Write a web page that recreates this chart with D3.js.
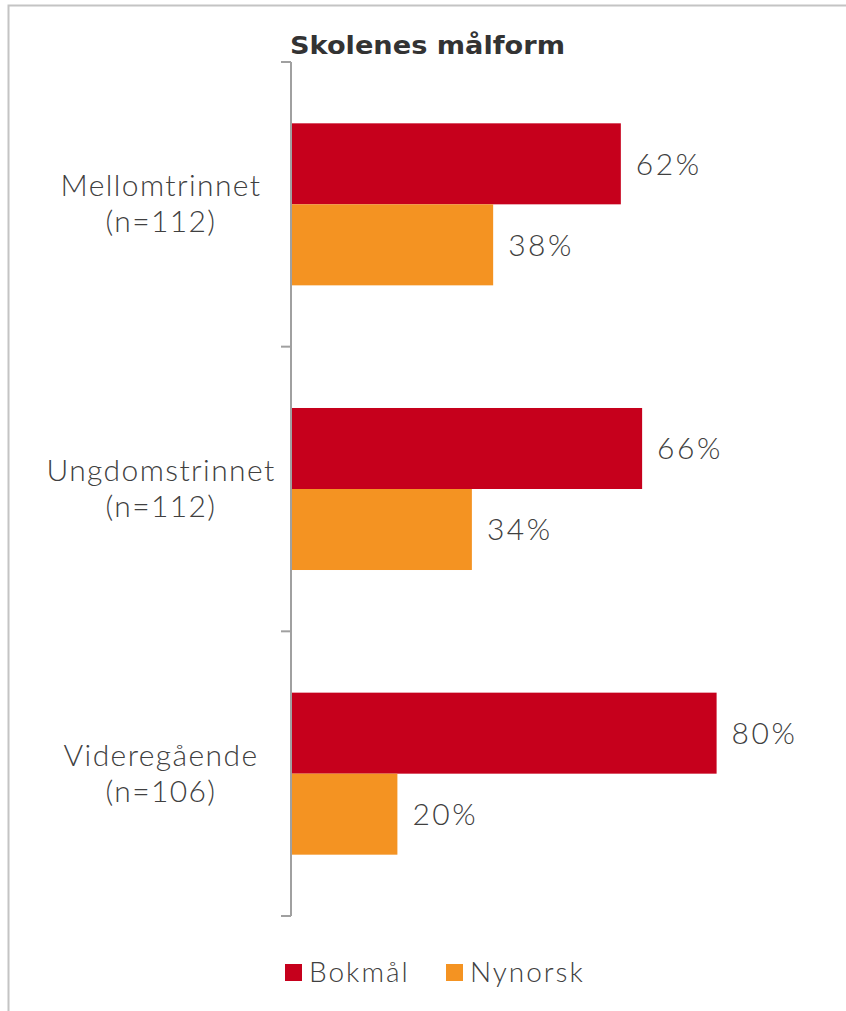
<!DOCTYPE html>
<html>
<head>
<meta charset="utf-8">
<script src="https://cdn.jsdelivr.net/npm/d3@7"></script>
<style>
  body { margin: 0; background: #fff; }
  text { font-family: Lato, "Open Sans", sans-serif; }
</style>
</head>
<body>
<div id="chart"></div>
<script>
  // data
  var categories = ["Mellomtrinnet", "Ungdomstrinnet", "Videregående"];
  var sampleSizes = ["(n=112)", "(n=112)", "(n=106)"];
  var seriesNames = ["Bokmål", "Nynorsk"];
  var bokmal = [62, 66, 80];
  var nynorsk = [38, 34, 20];

  var colors = ["#c6001c", "#f49322"];

  var width = 846, height = 1011;

  var svg = d3.select("#chart")
    .append("svg")
    .attr("width", width)
    .attr("height", height);

  // frame (left + top edge only visible)
  svg.append("path")
    .attr("d", "M8.5,1011 V5.5 H846")
    .attr("fill", "none")
    .attr("stroke", "#c4c4c4")
    .attr("stroke-width", 2);

  var rows = categories.map(function(c, i) {
    return { name: c, n: sampleSizes[i], values: [bokmal[i], nynorsk[i]] };
  });

  var axisX = 291;

  var y = d3.scaleBand()
    .domain(categories)
    .range([62, 916])
    .paddingInner(0)
    .paddingOuter(0);

  var ySub = d3.scaleBand()
    .domain(seriesNames)
    .range([0, y.bandwidth()])
    .paddingInner(0)
    .paddingOuter(0.757);

  var x = d3.scaleLinear()
    .domain([0, 100])
    .range([axisX, axisX + 532]);

  // title
  svg.append("text")
    .attr("x", 290)
    .attr("y", 54)
    .style("font-family", "'DejaVu Sans', sans-serif")
    .attr("font-weight", "bold")
    .attr("font-size", 25)
    .attr("textLength", 275)
    .attr("lengthAdjust", "spacingAndGlyphs")
    .attr("fill", "#333")
    .text("Skolenes målform");

  // bars
  var groups = svg.selectAll(".row")
    .data(rows)
    .enter().append("g")
    .attr("class", "row")
    .attr("transform", function(d) { return "translate(0," + y(d.name) + ")"; });

  groups.selectAll("rect")
    .data(function(d) { return d.values.map(function(v, i) { return { key: seriesNames[i], value: v, i: i }; }); })
    .enter().append("rect")
    .attr("x", x(0))
    .attr("y", function(d) { return ySub(d.key); })
    .attr("width", function(d) { return x(d.value) - x(0); })
    .attr("height", ySub.bandwidth())
    .attr("fill", function(d) { return colors[d.i]; });

  groups.selectAll(".val")
    .data(function(d) { return d.values.map(function(v, i) { return { key: seriesNames[i], value: v }; }); })
    .enter().append("text")
    .attr("class", "val")
    .attr("x", function(d) { return x(d.value) + 15; })
    .attr("y", function(d) { return ySub(d.key) + ySub.bandwidth() / 2; })
    .attr("dy", "0.36em")
    .attr("font-size", 30)
    .attr("font-weight", 300)
    .attr("letter-spacing", 2.5)
    .attr("fill", "#404040")
    .text(function(d) { return d.value + "%"; });

  // category labels
  var lab = groups.append("text")
    .attr("text-anchor", "middle")
    .attr("font-size", 30)
    .attr("font-weight", 300)
    .attr("letter-spacing", 1.4)
    .attr("fill", "#404040");
  lab.append("tspan")
    .attr("x", 161)
    .attr("y", function() { return y.bandwidth() / 2 - 8; })
    .text(function(d) { return d.name; });
  lab.append("tspan")
    .attr("x", 161)
    .attr("y", function() { return y.bandwidth() / 2 + 28; })
    .text(function(d) { return d.n; });

  // axis line with ticks at band edges
  var edges = categories.map(function(c) { return y(c); }).concat([y.range()[1]]);
  svg.append("line")
    .attr("x1", axisX).attr("x2", axisX)
    .attr("y1", edges[0]).attr("y2", edges[edges.length - 1])
    .attr("stroke", "#a0a0a0")
    .attr("stroke-width", 2);
  svg.selectAll(".tick")
    .data(edges)
    .enter().append("line")
    .attr("class", "tick")
    .attr("x1", axisX - 10).attr("x2", axisX)
    .attr("y1", function(d) { return d; }).attr("y2", function(d) { return d; })
    .attr("stroke", "#a0a0a0")
    .attr("stroke-width", 2);

  // legend
  var legendX = [285, 446];
  var legend = svg.selectAll(".legend")
    .data(seriesNames)
    .enter().append("g")
    .attr("class", "legend")
    .attr("transform", function(d, i) { return "translate(" + legendX[i] + ",964)"; });
  legend.append("rect")
    .attr("width", 17).attr("height", 17)
    .attr("fill", function(d, i) { return colors[i]; });
  legend.append("text")
    .attr("x", 24)
    .attr("y", 18)
    .attr("font-size", 28)
    .attr("font-weight", 300)
    .attr("letter-spacing", 2)
    .attr("fill", "#404040")
    .text(function(d) { return d; });
</script>
</body>
</html>
